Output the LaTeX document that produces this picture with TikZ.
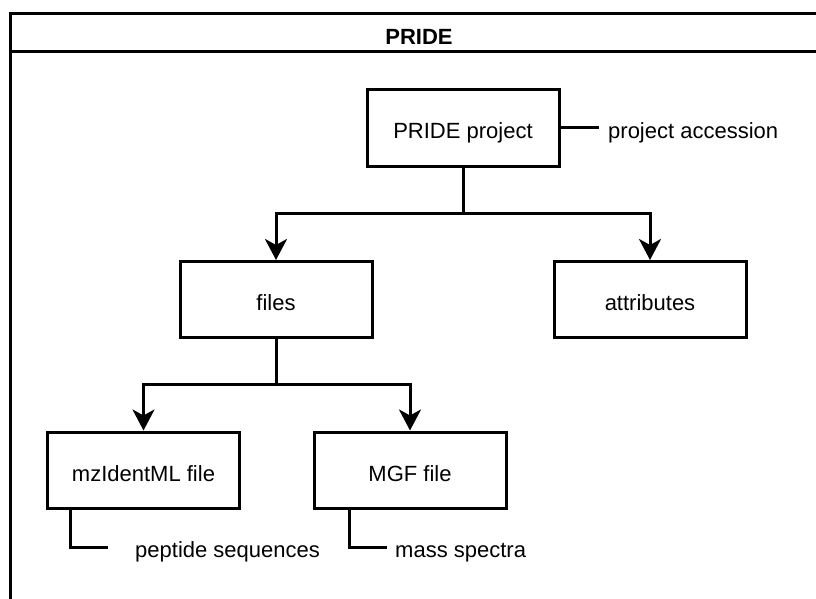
\documentclass[tikz,border=0pt]{standalone}
\usepackage{fontspec}
\setmainfont{Liberation Sans}
\usetikzlibrary{arrows.meta}
\begin{document}
\begin{tikzpicture}[x=1pt,y=-1pt,
  font=\fontsize{22}{26}\selectfont,
  box/.style={draw, line width=3pt, minimum width=192pt, minimum height=76pt,
    text height=22pt, text depth=0pt, inner sep=0pt},
  lbl/.style={anchor=base west, inner sep=0pt},
  conn/.style={line width=3pt},
  arr/.style={line width=3pt, -{Stealth[length=21pt,width=22pt,inset=6pt]}}]
\useasboundingbox (0,0) rectangle (816,599);
% frame
\draw[line width=3pt] (10,620) -- (10,13.7) -- (840,13.7);
\draw[line width=3pt] (10,51.7) -- (840,51.7);
\node[anchor=base, inner sep=0pt, font=\fontsize{22}{26}\selectfont\bfseries] (title) at (419,45) {PRIDE};
% boxes
\node[box] (proj) at (463,128) {PRIDE project};
\node[box] (files) at (276,299.5) {files};
\node[box] (attrs) at (650,299.5) {attributes};
\node[box] (mzid) at (143.5,470) {mzIdentML file};
\node[box] (mgf) at (410,470) {MGF file};
% labels
\node[lbl] (acc) at (608,139) {project accession};
\node[lbl] (pep) at (135,557) {peptide sequences};
\node[lbl] (mass) at (395,557) {mass spectra};
% junctions and connector ends
\coordinate (j1) at (463,213);
\coordinate (j2) at (276,384);
\coordinate (accend) at (599,128);
\coordinate (mzsrc) at (108,508);
\coordinate (pepend) at (108,547);
\coordinate (mgfsrc) at (387,508);
\coordinate (massend) at (387,547);
% connectors
\draw[conn] (proj.south) -- (j1);
\draw[arr] (j1) -| (files.north);
\draw[arr] (j1) -| (attrs.north);
\draw[conn] (files.south) -- (j2);
\draw[arr] (j2) -| (mzid.north);
\draw[arr] (j2) -| (mgf.north);
\draw[conn] (proj.east) -- (accend);
\draw[conn] (mzsrc) -| ++(-38,39) -- (pepend);
\draw[conn] (mgfsrc) -| ++(-38,39) -- (massend);
\end{tikzpicture}
\end{document}
